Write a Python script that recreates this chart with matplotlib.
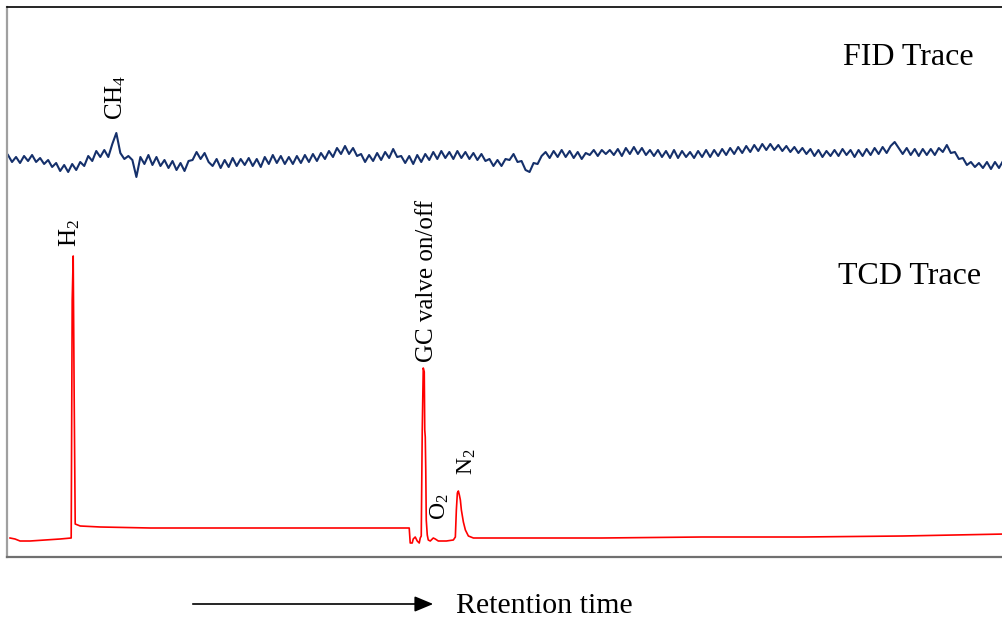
import numpy as np
import matplotlib
matplotlib.use("Agg")
import matplotlib.pyplot as plt

plt.rcParams['font.family'] = ['Liberation Serif', 'DejaVu Serif']
plt.rcParams['mathtext.fontset'] = 'custom'
plt.rcParams['mathtext.rm'] = 'Liberation Serif'
plt.rcParams['mathtext.it'] = 'Liberation Serif:italic'

# ---------------- data (retention time in arbitrary units, signal in a.u.) ----------------
fid_t0, fid_dt = 8, 4
fid_y_px = [
    155, 162, 157, 163, 156, 161, 155, 162, 158, 164,
    160, 167, 163, 171, 165, 172, 164, 170, 162, 166,
    156, 161, 151, 157, 150, 157, 144, 133, 153, 159,
    156, 160, 177, 157, 164, 155, 165, 157, 166, 160,
    168, 161, 170, 163, 171, 161, 160, 152, 159, 153,
    162, 166, 159, 168, 160, 167, 158, 166, 159, 165,
    158, 166, 159, 167, 157, 164, 155, 163, 156, 164,
    157, 164, 156, 163, 155, 162, 154, 161, 153, 159,
    151, 157, 148, 154, 146, 154, 148, 156, 154, 162,
    155, 161, 153, 160, 152, 158, 149, 157, 156, 163,
    156, 164, 155, 162, 154, 160, 152, 159, 151, 158,
    152, 159, 151, 158, 152, 159, 153, 160, 154, 161,
    159, 166, 160, 166, 159, 160, 154, 162, 161, 170,
    172, 163, 164, 156, 152, 158, 151, 157, 150, 157,
    151, 158, 152, 159, 153, 155, 150, 156, 150, 154,
    150, 155, 149, 156, 148, 154, 147, 154, 148, 155,
    150, 156, 150, 157, 151, 158, 150, 158, 151, 157,
    152, 158, 151, 157, 150, 157, 150, 156, 149, 155,
    148, 154, 147, 153, 146, 152, 145, 151, 144, 150,
    144, 150, 145, 151, 146, 152, 147, 153, 148, 154,
    149, 156, 150, 157, 151, 156, 150, 156, 149, 155,
    150, 157, 150, 156, 149, 155, 148, 154, 147, 153,
    146, 142, 148, 154, 148, 155, 149, 156, 149, 155,
    149, 155, 148, 152, 145, 153, 152, 159, 158, 165,
    162, 167, 163, 168, 162, 169, 162, 168, 161, 166,
]
fid_time = fid_t0 + fid_dt * np.arange(len(fid_y_px))
fid_signal = 557 - np.array(fid_y_px)

tcd_time = [10, 15, 20, 30, 45, 60, 71, 72, 73, 74, 75, 80, 100, 150, 250, 350, 408,
            409, 411, 412, 414, 416, 418, 419, 420, 421, 422, 423, 423.5, 424, 424.5, 425, 426,
            427, 429, 432, 434, 437, 445, 452, 454, 455, 456, 457, 458, 459, 460, 462,
            464, 467, 472, 500, 600, 700, 800, 900, 1003]
tcd_y_px = [538, 539, 541, 541, 540, 539, 538, 300, 256, 400, 524, 526, 527, 528, 528, 528, 528,
            543, 543, 539, 537, 541, 543, 538, 536, 430, 368, 372, 430, 437, 470, 520, 535,
            540, 541, 538, 539, 541, 541, 540, 537, 510, 493, 491, 495, 500, 510, 522,
            530, 536, 538, 538, 538, 537, 537, 536, 534]
tcd_signal = 557 - np.array(tcd_y_px)

# peak labels: (text, time, signal at label bottom, fontsize)
peak_labels = [
    ("CH$_4$", 115, 437, 18),
    ("H$_2$", 70, 310, 18),
    ("GC valve on/off", 426, 195, 18),
    ("O$_2$", 439, 37, 17),
    ("N$_2$", 465, 82, 17),
]
trace_labels = [("FID Trace", 840, 492), ("TCD Trace", 835, 273)]

# ---------------- figure ----------------
W, H = 1003, 622
fig = plt.figure(figsize=(W / 100, H / 100), dpi=100)
ax = fig.add_axes([7 / W, (H - 557) / H, 1 - 7 / W + 0.01, (557 - 7) / H])
ax.set_xlim(7, 1010)
ax.set_ylim(0, 550)

ax.plot(fid_time, fid_signal, color='#15306b', lw=1.5)
ax.plot(tcd_time, tcd_signal, color='#ff0000', lw=1.2)

for txt, x, y, fs in peak_labels:
    ax.text(x, y, txt, rotation=90, ha='center', va='bottom', fontsize=fs)
for txt, x, y in trace_labels:
    ax.text(x, y, txt, ha='left', va='baseline', fontsize=23)

ax.set_xticks([])
ax.set_yticks([])
ax.spines['right'].set_visible(False)
ax.spines['left'].set_color('#a0a0a0')
ax.spines['left'].set_linewidth(1.6)
ax.spines['bottom'].set_color('#707070')
ax.spines['bottom'].set_linewidth(1.6)
ax.spines['top'].set_color('black')
ax.spines['top'].set_linewidth(1.2)

# retention time arrow
ay = (H - 604) / H
fig.add_artist(matplotlib.patches.FancyArrowPatch(
    (190 / W, ay), (436 / W, ay), transform=fig.transFigure,
    arrowstyle='-|>,head_length=0.6,head_width=0.25', mutation_scale=19,
    color='black', lw=1.2))
fig.text(456 / W, (H - 613) / H, "Retention time", ha='left', va='baseline', fontsize=21.5)

fig.savefig("out.png", dpi=100)
